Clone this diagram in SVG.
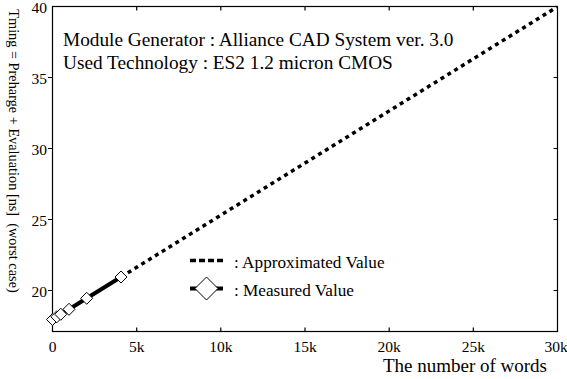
<svg xmlns="http://www.w3.org/2000/svg" width="567" height="379" viewBox="0 0 567 379">
<style>
text{font-family:"Liberation Serif","Times New Roman",serif;fill:#000}
.tick{font-size:15.5px}
.ax{stroke:#000;stroke-width:1.2;fill:none}
.approx{stroke:#000;stroke-width:3.5;stroke-dasharray:4 4;fill:none}
.meas{stroke:#000;stroke-width:4;fill:none}
.dia{fill:#fff;stroke:#000;stroke-width:1}
</style>
<defs>
<path id="d" d="M0,-6 L6,0 L0,6 L-6,0 Z"/>
</defs>
<g id="axes">
<rect class="ax" x="52.5" y="6.5" width="505" height="325"/>
<path class="ax" d="M136.7,331.5v-4M220.8,331.5v-4M305,331.5v-4M389.2,331.5v-4M473.3,331.5v-4
M136.7,6.5v4M220.8,6.5v4M305,6.5v4M389.2,6.5v4M473.3,6.5v4
M48,77.5h4.5M48,148.5h4.5M48,219.5h4.5M48,290.5h4.5
M557.5,77.5h-4M557.5,148.5h-4M557.5,219.5h-4M557.5,290.5h-4"/>
<g class="tick" text-anchor="end">
<text x="47" y="13">40</text>
<text x="47" y="84">35</text>
<text x="47" y="155">30</text>
<text x="47" y="226">25</text>
<text x="47" y="297">20</text>
</g>
<g class="tick" text-anchor="middle">
<text x="52.5" y="352">0</text>
<text x="136.7" y="352">5k</text>
<text x="220.8" y="352">10k</text>
<text x="305" y="352">15k</text>
<text x="389.2" y="352">20k</text>
<text x="473.3" y="352">25k</text>
<text x="556" y="352">30k</text>
</g>
<text x="547" y="372" text-anchor="end" font-size="19">The number of words</text>
<text transform="translate(9,151) rotate(90)" text-anchor="middle" font-size="14.3" xml:space="preserve">Tming = Preharge + Evaluation [ns]  (worst case)</text>
</g>
<g id="title" font-size="19.3">
<text x="63" y="46">Module Generator : Alliance CAD System ver. 3.0</text>
<text x="63" y="69">Used Technology : ES2 1.2 micron CMOS</text>
</g>
<g id="connectors">
<path class="approx" d="M121,277 L557,7"/>
<path class="meas" d="M52.5,319.5 L121,277"/>
</g>
<g id="points">
<use href="#d" class="dia" x="52.5" y="319.5"/>
<use href="#d" class="dia" x="56.8" y="316.8"/>
<use href="#d" class="dia" x="60.8" y="314.3"/>
<use href="#d" class="dia" x="69" y="309.3"/>
<use href="#d" class="dia" x="86.7" y="298.3"/>
<use href="#d" class="dia" x="121" y="277"/>
</g>
<g id="legend">
<path class="approx" d="M190,260.5 H224" style="stroke-dasharray:6 3"/>
<path class="meas" d="M190,288.5 H223"/>
<path class="dia" d="M206.5,277 L218,288.5 L206.5,300 L195,288.5 Z"/>
<text x="234" y="268" font-size="17.2">: Approximated Value</text>
<text x="234" y="296" font-size="17.2">: Measured Value</text>
</g>
</svg>
